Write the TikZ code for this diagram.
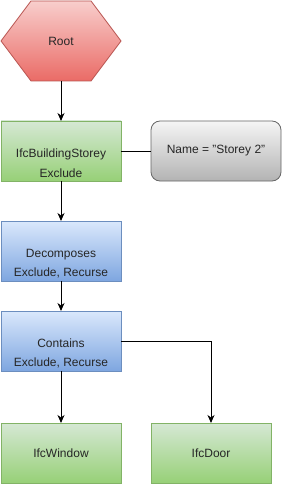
\documentclass[tikz,border=0pt]{standalone}
\usepackage{fontspec}
\setmainfont{Liberation Sans}
\usetikzlibrary{arrows.meta}

\definecolor{redtop}{HTML}{F8CECC}
\definecolor{redbot}{HTML}{EA6B66}
\definecolor{redline}{HTML}{B85450}
\definecolor{greentop}{HTML}{D5E8D4}
\definecolor{greenbot}{HTML}{97D077}
\definecolor{greenline}{HTML}{82B366}
\definecolor{bluetop}{HTML}{DAE8FC}
\definecolor{bluebot}{HTML}{7EA6E0}
\definecolor{blueline}{HTML}{6C8EBF}
\definecolor{greytop}{HTML}{F5F5F5}
\definecolor{greybot}{HTML}{B3B3B3}
\definecolor{greyline}{HTML}{666666}

\begin{document}
\begin{tikzpicture}[x=1pt, y=-1pt, >={Stealth[length=8pt, width=7pt, inset=2.5pt]}, line width=1pt,
                    font=\fontsize{12}{19.5}\selectfont, text=black!85,
                    base node/.style={rectangle, minimum width=120pt, minimum height=60pt,
                                      inner sep=0pt, outer sep=0pt, align=center, line width=0.8pt},
                    green node/.style={base node, top color=greentop, bottom color=greenbot, draw=greenline},
                    blue node/.style={base node, top color=bluetop, bottom color=bluebot, draw=blueline},
                    grey node/.style={base node, minimum width=130pt, rounded corners=9pt,
                                      top color=greytop, bottom color=greybot, draw=greyline}]
  \useasboundingbox (0,0) rectangle (282,484);

  % root hexagon
  \node[minimum width=120pt, minimum height=80pt, inner sep=0pt, outer sep=0pt] (root) at (61,41) {};
  \shade[top color=redtop, bottom color=redbot, draw=redline, line width=0.8pt]
    (root.west) -- ([xshift=30pt]root.north west) -- ([xshift=-30pt]root.north east)
    -- (root.east) -- ([xshift=-30pt]root.south east) -- ([xshift=30pt]root.south west) -- cycle;
  \node at (root) {Root};

  \node[green node] (storey)   at (61,151)  {\strut\\IfcBuildingStorey\\Exclude};
  \node[grey node]  (name)     at (216,151) {Name = \symbol{34}Storey 2\symbol{34}};
  \node[blue node]  (decomp)   at (61,251)  {\strut\\Decomposes\\Exclude, Recurse};
  \node[blue node]  (contains) at (61,341)  {\strut\\Contains\\Exclude, Recurse};
  \node[green node] (window)   at (61,453)  {IfcWindow};
  \node[green node] (door)     at (211,453) {IfcDoor};

  \draw[->] (root) -- (storey);
  \draw (storey) -- (name);
  \draw[->] (storey) -- (decomp);
  \draw[->] (decomp) -- (contains);
  \draw[->] (contains) -- (window);
  \draw[->] (contains.east) -| (door.north);
\end{tikzpicture}
\end{document}
